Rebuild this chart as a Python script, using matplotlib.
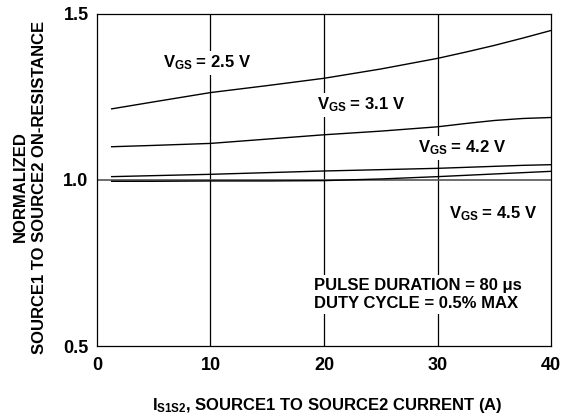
import matplotlib
matplotlib.use('Agg')
import matplotlib.pyplot as plt

plt.rcParams['font.family'] = ['Liberation Sans', 'DejaVu Sans']
plt.rcParams['font.weight'] = 'bold'
plt.rcParams['mathtext.fontset'] = 'custom'
plt.rcParams['mathtext.rm'] = 'Liberation Sans:bold'
plt.rcParams['mathtext.it'] = 'Liberation Sans:bold'
plt.rcParams['mathtext.bf'] = 'Liberation Sans:bold'

# current (A)
current = [1.3, 5, 10, 15, 20, 25, 30, 32.5, 35, 37.5, 40]
# normalized on-resistance per gate voltage
r_25 = [1.214, 1.235, 1.263, 1.284, 1.306, 1.334, 1.366, 1.385, 1.405, 1.427, 1.450]
r_31 = [1.100, 1.104, 1.110, 1.123, 1.136, 1.147, 1.160, 1.170, 1.179, 1.185, 1.188]
r_42 = [1.010, 1.013, 1.017, 1.022, 1.027, 1.031, 1.035, 1.038, 1.041, 1.044, 1.046]
r_45 = [0.996, 0.996, 0.997, 0.997, 0.998, 1.003, 1.010, 1.014, 1.018, 1.022, 1.026]

xticks = [0, 10, 20, 30, 40]
yticks = [0.5, 1.0, 1.5]

fig = plt.figure(figsize=(5.7, 4.19), dpi=100)
ax = fig.add_axes([0.170, 0.174, 0.797, 0.793])

# grid
for xv in [10, 20, 30]:
    ax.axvline(xv, color='black', lw=0.9, zorder=1)
ax.axhline(1.0, color='#555555', lw=1.2, zorder=1)

for r in [r_25, r_31, r_42, r_45]:
    ax.plot(current, r, color='black', lw=1.0, zorder=2)

ax.set_xlim(0, 40)
ax.set_ylim(0.5, 1.5)
ax.set_xticks(xticks)
ax.set_xticklabels([str(v) for v in xticks])
ax.set_yticks(yticks)
ax.set_yticklabels(['0.5', '1.0', '1.5'])
ax.tick_params(length=0, labelsize=13)
ax.tick_params(axis='x', pad=8)
ax.tick_params(axis='y', pad=6)
for s in ax.spines.values():
    s.set_linewidth(0.9)

box = dict(facecolor='white', edgecolor='none', pad=2)
fs = 12
ax.text(5.8, 1.352, r'$V_{GS}$ = 2.5 V', fontsize=fs, ha='left', va='center', bbox=box, zorder=3)
ax.text(19.4, 1.226, r'$V_{GS}$ = 3.1 V', fontsize=fs, ha='left', va='center', bbox=box, zorder=3)
ax.text(28.3, 1.096, r'$V_{GS}$ = 4.2 V', fontsize=fs, ha='left', va='center', bbox=box, zorder=3)
ax.text(31.0, 0.900, r'$V_{GS}$ = 4.5 V', fontsize=fs, ha='left', va='center', bbox=box, zorder=3)
ax.text(19.1, 0.655, 'PULSE DURATION = 80 μs\nDUTY CYCLE = 0.5% MAX', fontsize=fs,
        ha='left', va='center', linespacing=1.25, bbox=box, zorder=3)

fig.text(30 / 570, 1 - 187 / 419, 'NORMALIZED\nSOURCE1 TO SOURCE2 ON-RESISTANCE',
         rotation=90, ha='center', va='center', multialignment='center', fontsize=12,
         linespacing=1.35)
fig.text(327 / 570, 1 - 405 / 419, r'$I_{S1S2}$, SOURCE1 TO SOURCE2 CURRENT (A)',
         ha='center', va='center', fontsize=12)

fig.savefig('out.png', dpi=100)
